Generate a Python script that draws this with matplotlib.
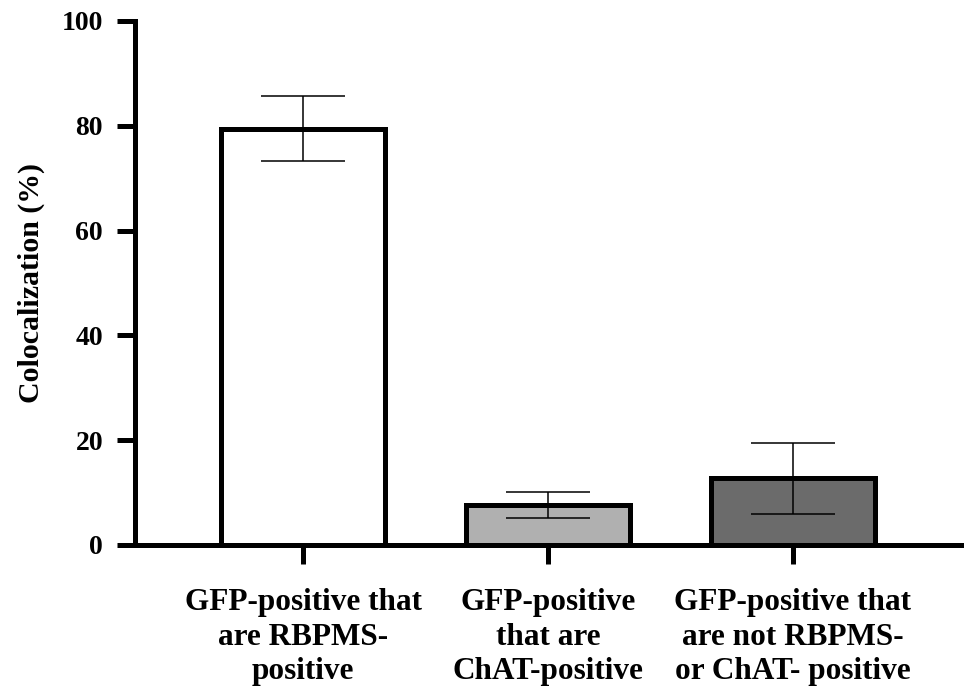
import matplotlib.pyplot as plt

plt.rcParams["font.family"] = ["Liberation Serif", "DejaVu Serif"]
plt.rcParams["font.weight"] = "bold"

categories = [
    "GFP-positive that\nare RBPMS-\npositive",
    "GFP-positive\nthat are\nChAT-positive",
    "GFP-positive that\nare not RBPMS-\nor ChAT- positive",
]
means = [79.4, 7.65, 12.7]
errors = [6.2, 2.55, 6.7]
colors = ["#ffffff", "#b0b0b0", "#6b6b6b"]
yticks = [0, 20, 40, 60, 80, 100]

fig = plt.figure(figsize=(9.64, 6.96), dpi=100)
ax = fig.add_axes([0.140, 0.217, 0.860, 0.753])

x = list(range(len(categories)))
ax.bar(x, means, width=0.673, color=colors, edgecolor="black", linewidth=3.6, zorder=2)
ax.errorbar(x, means, yerr=errors, fmt="none", ecolor="black", elinewidth=1.1,
            capsize=30, capthick=1.1, zorder=3)

ax.set_xlim(-0.686, 2.698)
ax.set_ylim(0, 100)
ax.set_yticks(yticks)
ax.set_xticks(x)
ax.set_xticklabels(categories, fontsize=22.5, fontweight="bold", linespacing=1.25)
ax.tick_params(axis="y", labelsize=20, width=3.6, length=13, pad=10)
ax.tick_params(axis="x", width=3.6, length=14, pad=17)
for lab in ax.get_yticklabels():
    lab.set_fontweight("bold")
ax.set_ylabel("Colocalization (%)", fontsize=21.5, fontweight="bold", labelpad=12)

for side in ["top", "right"]:
    ax.spines[side].set_visible(False)
for side in ["left", "bottom"]:
    ax.spines[side].set_linewidth(3.6)
ax.spines["left"].set_bounds(0, 100)

fig.savefig("out.png", dpi=100)
